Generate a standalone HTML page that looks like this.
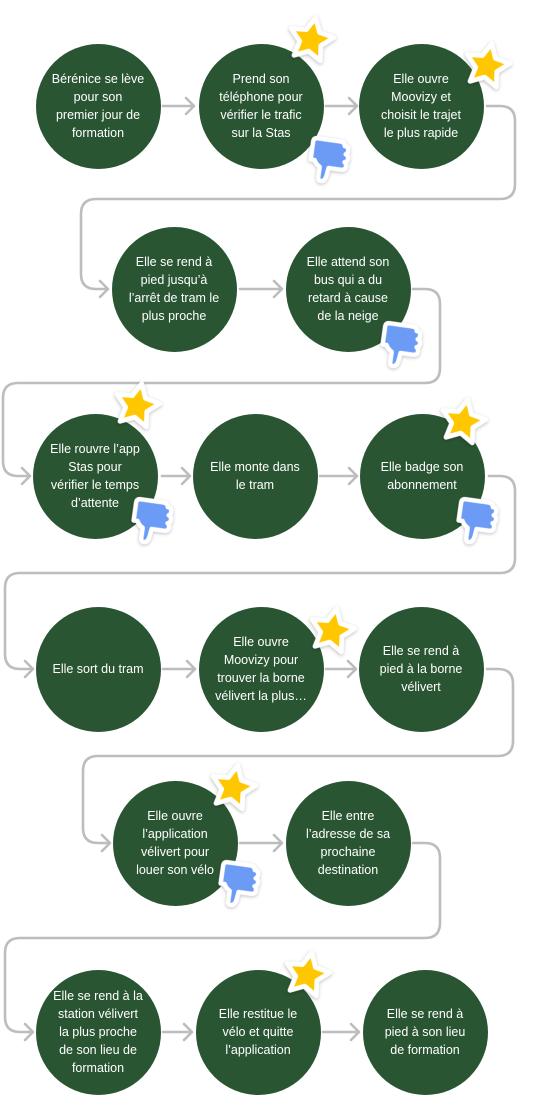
<!DOCTYPE html>
<html><head><meta charset="utf-8"><style>
body{margin:0;width:546px;height:1098px;background:#fff;position:relative;overflow:hidden;font-family:"Liberation Sans",sans-serif}
.c{position:absolute;width:125px;height:125px;border-radius:50%;background:#2A5532;color:#fff;display:flex;align-items:center;justify-content:center;text-align:center;font-size:12.5px;line-height:18px;margin-left:-62.5px;margin-top:-62.5px}
svg.i{position:absolute;overflow:visible}
</style></head><body>
<svg width="546" height="1098" style="position:absolute;left:0;top:0" fill="none" stroke="#BDBDBD" stroke-width="2.6" stroke-linecap="round" stroke-linejoin="round">
<path d="M163,106H194M186,98L194,106L186,114"/>
<path d="M326,106H357M349,98L357,106L349,114"/>
<path d="M487,106H500Q515,106 515,121V184Q515,199 500,199H96Q81,199 81,214V274Q81,289 96,289H108M100,281L108,289L100,297"/>
<path d="M240,289H282M274,281L282,289L274,297"/>
<path d="M413,289H425Q440,289 440,304V368Q440,383 425,383H18Q3,383 3,398V461Q3,476 18,476H30M22,468L30,476L22,484"/>
<path d="M162,476H190M182,468L190,476L182,484"/>
<path d="M320,476H357M349,468L357,476L349,484"/>
<path d="M489,476H500Q515,476 515,491V558Q515,573 500,573H20Q5,573 5,588V654Q5,669 20,669H33M25,661L33,669L25,677"/>
<path d="M163,669H195M187,661L195,669L187,677"/>
<path d="M326,669H356M348,661L356,669L348,677"/>
<path d="M487,669H498Q513,669 513,684V741Q513,756 498,756H98Q83,756 83,771V828Q83,843 98,843H110M102,835L110,843L102,851"/>
<path d="M240,843H282M274,835L282,843L274,851"/>
<path d="M413,843H425Q440,843 440,858V923Q440,938 425,938H20Q5,938 5,953V1017Q5,1032 20,1032H33M25,1024L33,1032L25,1040"/>
<path d="M163,1032H192M184,1024L192,1032L184,1040"/>
<path d="M323,1032H359M351,1024L359,1032L351,1040"/>
</svg>
<div class="c" style="left:98px;top:106px">Bérénice se lève<br>pour son<br>premier jour de<br>formation</div>
<div class="c" style="left:261px;top:106px">Prend son<br>téléphone pour<br>vérifier le trafic<br>sur la Stas</div>
<div class="c" style="left:421px;top:106px">Elle ouvre<br>Moovizy et<br>choisit le trajet<br>le plus rapide</div>
<div class="c" style="left:174px;top:289px">Elle se rend à<br>pied jusqu’à<br>l’arrêt de tram le<br>plus proche</div>
<div class="c" style="left:348px;top:289px">Elle attend son<br>bus qui a du<br>retard à cause<br>de la neige</div>
<div class="c" style="left:95px;top:476px">Elle rouvre l’app<br>Stas pour<br>vérifier le temps<br>d’attente</div>
<div class="c" style="left:255px;top:476px">Elle monte dans<br>le tram</div>
<div class="c" style="left:422px;top:476px">Elle badge son<br>abonnement</div>
<div class="c" style="left:98px;top:669px">Elle sort du tram</div>
<div class="c" style="left:261px;top:669px">Elle ouvre<br>Moovizy pour<br>trouver la borne<br>vélivert la plus…</div>
<div class="c" style="left:421px;top:669px">Elle se rend à<br>pied à la borne<br>vélivert</div>
<div class="c" style="left:175px;top:843px">Elle ouvre<br>l’application<br>vélivert pour<br>louer son vélo</div>
<div class="c" style="left:348px;top:843px">Elle entre<br>l’adresse de sa<br>prochaine<br>destination</div>
<div class="c" style="left:98px;top:1032px">Elle se rend à la<br>station vélivert<br>la plus proche<br>de son lieu de<br>formation</div>
<div class="c" style="left:258px;top:1032px">Elle restitue le<br>vélo et quitte<br>l’application</div>
<div class="c" style="left:425px;top:1032px">Elle se rend à<br>pied à son lieu<br>de formation</div>

<svg width="0" height="0" style="position:absolute"><defs>
<g id="st" transform="rotate(12) scale(1.2)"><polygon points="0,-19 5.6,-7.7 18.1,-5.9 9,2.9 11.2,15.4 0,9.5 -11.2,15.4 -9,2.9 -18.1,-5.9 -5.6,-7.7" fill="#FFC700" stroke="#fff" stroke-width="4" stroke-linejoin="round" style="filter:drop-shadow(0 1px 1.5px rgba(0,0,0,.25))"/></g>
<g id="th" transform="rotate(8)"><path d="M-11,-18H8Q14,-18 14,-14Q18,-14 18,-10Q18,-7 16,-6Q19,-5 19,-2Q19,1 16,2Q18,3 18,6Q18,10 13,10H1L0,18Q-1,24 -5,24Q-8,24 -8,20L-8,10Q-12,8 -14,4H-18V-14Q-18,-18 -14,-18Z" fill="#6B9BF5" stroke="#fff" stroke-width="4.5" stroke-linejoin="round" style="filter:drop-shadow(0 1px 1.5px rgba(0,0,0,.25))"/></g>
</defs></svg>
<svg class="i" style="left:311px;top:40px" width="1" height="1"><use href="#st"/></svg>
<svg class="i" style="left:487px;top:66px" width="1" height="1"><use href="#st"/></svg>
<svg class="i" style="left:137px;top:406px" width="1" height="1"><use href="#st"/></svg>
<svg class="i" style="left:463px;top:422px" width="1" height="1"><use href="#st"/></svg>
<svg class="i" style="left:332px;top:631px" width="1" height="1"><use href="#st"/></svg>
<svg class="i" style="left:233px;top:788px" width="1" height="1"><use href="#st"/></svg>
<svg class="i" style="left:307px;top:975px" width="1" height="1"><use href="#st"/></svg>
<svg class="i" style="left:329px;top:158px" width="1" height="1"><use href="#th"/></svg>
<svg class="i" style="left:401px;top:343px" width="1" height="1"><use href="#th"/></svg>
<svg class="i" style="left:152px;top:519px" width="1" height="1"><use href="#th"/></svg>
<svg class="i" style="left:477px;top:519px" width="1" height="1"><use href="#th"/></svg>
<svg class="i" style="left:239px;top:882px" width="1" height="1"><use href="#th"/></svg>
</body></html>
